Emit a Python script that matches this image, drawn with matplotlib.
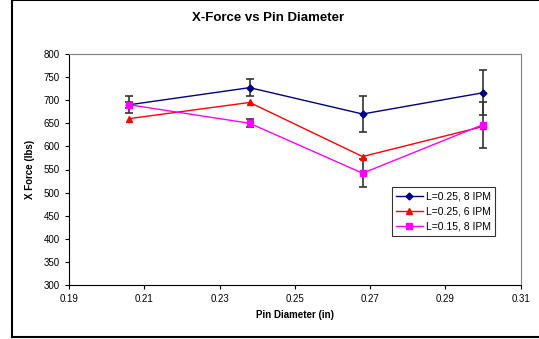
"""X-Force vs pin diameter, three feed/length settings."""
import matplotlib
matplotlib.use("Agg")
import matplotlib.pyplot as plt
from matplotlib.lines import Line2D

plt.rcParams["font.family"] = ["Liberation Sans", "DejaVu Sans"]

pin_diameter = [0.206, 0.238, 0.268, 0.300]

labels = ["L=0.25, 8 IPM", "L=0.25, 6 IPM", "L=0.15, 8 IPM"]
force_l25_8 = [690, 727, 670, 716]
force_l25_6 = [660, 695, 578, 643]
force_l15_8 = [690, 650, 542, 647]

err_l25_8 = [7, 18, 39, 49]
err_l15_8 = [18, 9, 30, 50]

fig = plt.figure(figsize=(5.39, 3.39), dpi=100)
ax = fig.add_axes([0.128, 0.159, 0.838, 0.682])

# outer chart frame (Excel style)
frame = [Line2D([12 / 539, 12 / 539], [1 - 337 / 339, 1.0]),
         Line2D([12 / 539, 1.0], [1 - 337 / 339, 1 - 337 / 339]),
         Line2D([12 / 539, 1.0], [0.999, 0.999])]
for ln in frame:
    ln.set_color("black")
    ln.set_linewidth(1.5)
    ln.set_transform(fig.transFigure)
    fig.add_artist(ln)

ax.errorbar(pin_diameter, force_l25_8, yerr=err_l25_8, fmt="none",
            ecolor="#333333", elinewidth=1.2, capsize=3, capthick=1.2, zorder=2)
ax.errorbar(pin_diameter, force_l15_8, yerr=err_l15_8, fmt="none",
            ecolor="#333333", elinewidth=1.2, capsize=3, capthick=1.2, zorder=2)

ax.plot(pin_diameter, force_l25_8, marker="D", color="#000080", lw=1,
        ms=3.5, label=labels[0], zorder=3)
ax.plot(pin_diameter, force_l25_6, marker="^", color="#FF0000", lw=1,
        ms=4.5, label=labels[1], zorder=3)
ax.plot(pin_diameter, force_l15_8, marker="s", color="#FF00FF", lw=1,
        ms=4, label=labels[2], zorder=4)

ax.set_xlim(0.19, 0.31)
ax.set_ylim(300, 800)
ax.set_xticks([0.19, 0.21, 0.23, 0.25, 0.27, 0.29, 0.31])
ax.set_yticks(range(300, 801, 50))
ax.tick_params(labelsize=7, length=3, width=0.8, colors="black")

for side in ["top", "right"]:
    ax.spines[side].set_color("#808080")
for side in ["left", "bottom"]:
    ax.spines[side].set_color("black")

ax.set_xlabel("Pin Diameter (in)", fontsize=7, fontweight="bold", labelpad=4)
ax.set_ylabel("X Force (lbs)", fontsize=7, fontweight="bold", labelpad=6)
fig.text(0.497, 0.947, "X-Force vs Pin Diameter", ha="center", va="center",
         fontsize=9.5, fontweight="bold")

leg = ax.legend(loc="lower right", bbox_to_anchor=(0.955, 0.19), fontsize=7.5,
                frameon=True, fancybox=False, edgecolor="black",
                handlelength=2.6, borderpad=0.4, labelspacing=0.5,
                handletextpad=0.3)
leg.get_frame().set_linewidth(0.8)

plt.savefig("out.png", dpi=100)
plt.close()
